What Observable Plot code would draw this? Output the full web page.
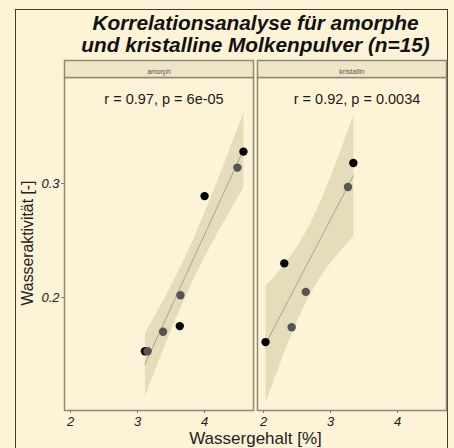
<!DOCTYPE html>
<html><head><meta charset="utf-8">
<script src="https://cdn.jsdelivr.net/npm/d3@7"></script>
<script src="https://cdn.jsdelivr.net/npm/@observablehq/plot@0.6"></script>
<style>
html,body{margin:0;padding:0;background:#fdf3d6;}
#wrap{position:relative;width:454px;height:448px;overflow:hidden;background:#fdf3d6;font-family:"Liberation Sans",Arial,sans-serif;}
#box{position:absolute;left:15px;top:9px;width:433px;height:460px;border:1.5px solid #3f3b33;box-sizing:border-box;}
#title{position:absolute;left:44px;width:423px;top:12px;text-align:center;font-weight:bold;font-style:italic;font-size:20.8px;line-height:22px;color:#111;}
#xlab{position:absolute;left:64px;width:383px;top:430px;text-align:center;font-size:17px;line-height:18px;color:#222;}
#ylab{position:absolute;left:28px;top:243px;transform:translate(-50%,-50%) rotate(-90deg);white-space:nowrap;font-size:15.8px;color:#222;}
#chart{position:absolute;left:0;top:0;}
</style></head>
<body>
<div id="wrap">
<div id="box"></div>
<div id="chart"></div>
<div id="title">Korrelationsanalyse für amorphe<br>und kristalline Molkenpulver (n=15)</div>
<div id="xlab">Wassergehalt [%]</div>
<div id="ylab">Wasseraktivität [-]</div>
</div>
<script>
const types = ["amorph", "kristallin"];
const amorphX = [3.11, 3.15, 3.38, 3.63, 3.64, 4.00, 4.49, 4.58];
const amorphY = [0.153, 0.153, 0.170, 0.175, 0.202, 0.289, 0.314, 0.328];
const amorphShade = ["dark", "grey", "grey", "dark", "grey", "dark", "grey", "dark"];
const kristallinX = [2.03, 2.31, 2.42, 2.63, 3.26, 3.34];
const kristallinY = [0.161, 0.230, 0.174, 0.205, 0.297, 0.318];
const kristallinShade = ["dark", "dark", "grey", "grey", "grey", "dark"];
const statLabels = ["r = 0.97, p = 6e-05", "r = 0.92, p = 0.0034"];
const xTicks = [2, 3, 4];
const yTicks = [0.2, 0.3];

const data = [
  ...amorphX.map((x, i) => ({type: types[0], x, y: amorphY[i], shade: amorphShade[i]})),
  ...kristallinX.map((x, i) => ({type: types[1], x, y: kristallinY[i], shade: kristallinShade[i]}))
];
const stats = types.map((t, i) => ({type: t, label: statLabels[i]}));

const chart = Plot.plot({
  width: 454, height: 448,
  marginLeft: 64, marginRight: 7, marginTop: 77, marginBottom: 38,
  style: {background: "transparent", fontFamily: "Liberation Sans, Arial, sans-serif"},
  fx: {domain: types, padding: 0.0207, axis: null, label: null},
  x: {domain: [1.91, 4.73], label: null},
  y: {domain: [0.101, 0.393], label: null},
  color: {domain: ["dark", "grey"], range: ["#000000", "#555555"]},
  marks: [
    Plot.frame({stroke: "#8f8a78", strokeWidth: 1.5}),
    Plot.frame({fill: "#efe6c8", stroke: "#8f8a78", strokeWidth: 1.5, insetTop: -17, insetBottom: 333}),
    Plot.text(types, {fx: d => d, text: d => d, frameAnchor: "top", dy: -8.5, fontSize: 7, fill: "#555"}),
    Plot.text(stats, {fx: "type", text: "label", frameAnchor: "top", dx: 5, dy: 16, fontSize: 14.5, fill: "#1a1a1a"}),
    Plot.linearRegressionY(data, {fx: "type", x: "x", y: "y", ci: 0.95, stroke: "#9d9684", strokeWidth: 0.8, fill: "#d9cfae", fillOpacity: 0.65}),
    Plot.dot(data, {fx: "type", x: "x", y: "y", fill: "shade", r: 4.2}),
    Plot.axisX({ticks: xTicks, tickSize: 3, tickPadding: 3, tickFormat: d => String(d), stroke: "#777", fill: "#222", fontSize: 13, fontStyle: "italic", label: null}),
    Plot.axisY({ticks: yTicks, tickSize: 3, tickPadding: 2, tickFormat: d => d.toFixed(1), stroke: "#777", fill: "#222", fontSize: 13, fontStyle: "italic", label: null})
  ]
});
document.getElementById("chart").appendChild(chart);
</script>
</body></html>
